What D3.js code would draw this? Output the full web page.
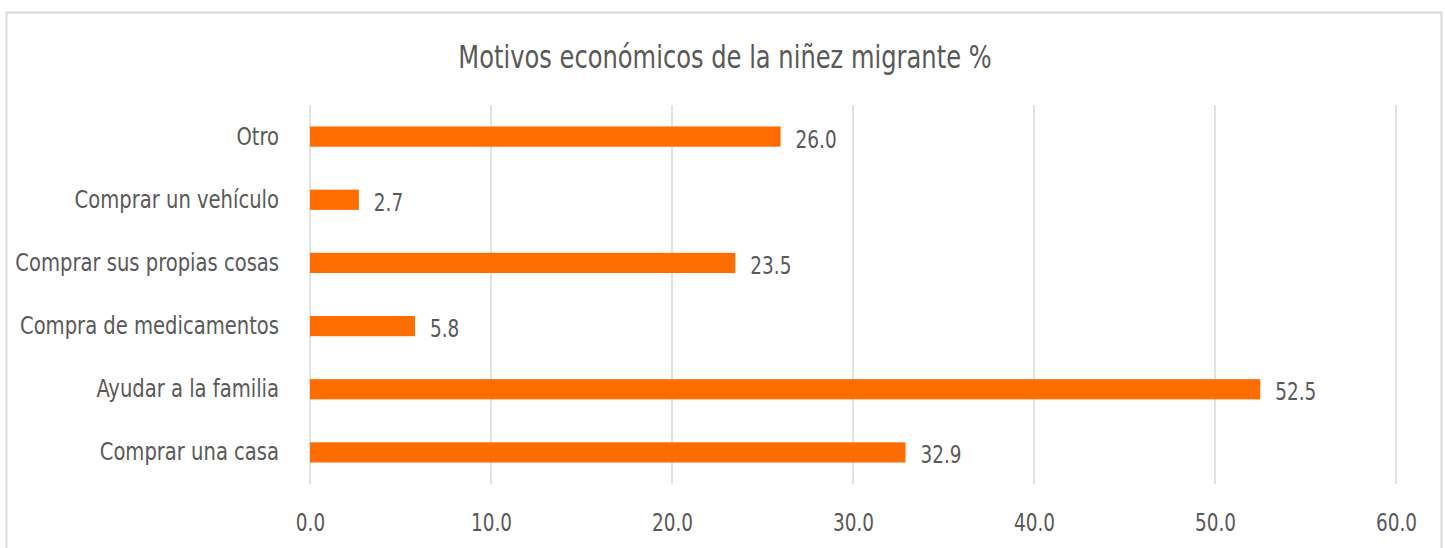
<!DOCTYPE html>
<html>
<head>
<meta charset="utf-8">
<script src="https://cdn.jsdelivr.net/npm/d3@7"></script>
<style>
    html, body { margin: 0; padding: 0; background: #fff; }
    svg text { font-family: "DejaVu Sans Condensed", "DejaVu Sans", sans-serif; fill: #595959; }
</style>
</head>
<body>
<div id="chart"></div>
<script>
// data, top category first
const categories = ['Otro', 'Comprar un vehículo', 'Comprar sus propias cosas',
                    'Compra de medicamentos', 'Ayudar a la familia', 'Comprar una casa'];
const values = [26.0, 2.7, 23.5, 5.8, 52.5, 32.9];
const xTicks = [0, 10, 20, 30, 40, 50, 60];
const TITLE = 'Motivos económicos de la niñez migrante %';

(function(){
    var WIDTH = 1445, HEIGHT = 548,
        PLOT_LEFT = 310, PLOT_RIGHT = 1396,
        PLOT_TOP = 105, PLOT_BOTTOM = 484,
        BAR_COLOR = '#ff6d00',
        GRID_COLOR = '#d9d9d9',
        SQUEEZE = 0.87;   // no condensed font here, so squeeze text horizontally

    var svg = d3.select('#chart').append('svg')
        .attr('width', WIDTH)
        .attr('height', HEIGHT);

    // place a text at (px,py) and squeeze it
    function squeeze(sel, px, py, k){
        sel.attr('x', 0).attr('y', 0)
            .attr('transform', (d, i) => 'translate(' + px(d, i) + ',' + py(d, i) + ') scale(' + k + ',1)');
    }

    // chart frame
    svg.append('rect')
        .attr('x', 6.5).attr('y', 12.5)
        .attr('width', 1435).attr('height', 560)
        .attr('fill', 'none')
        .attr('stroke', '#d9d9d9')
        .attr('stroke-width', 2);

    svg.append('text')
        .attr('text-anchor', 'middle')
        .style('font-size', '32px')
        .text(TITLE)
        .call(squeeze, () => 725, () => 68, 0.84);

    var x = d3.scaleLinear().domain([0, 60]).range([PLOT_LEFT, PLOT_RIGHT]);
    var y = d3.scaleBand().domain(categories).range([PLOT_TOP, PLOT_BOTTOM]).paddingInner(0.68).paddingOuter(0.34);

    // gridlines
    svg.append('g').selectAll('line')
        .data(xTicks)
        .enter().append('line')
        .attr('x1', d => x(d)).attr('x2', d => x(d))
        .attr('y1', PLOT_TOP).attr('y2', PLOT_BOTTOM)
        .attr('stroke', GRID_COLOR)
        .attr('stroke-width', 1.5);

    // x axis labels
    var xAxis = d3.axisBottom(x).tickValues(xTicks).tickFormat(d3.format('.1f')).tickSize(0);
    var gx = svg.append('g')
        .attr('transform', 'translate(0,' + PLOT_BOTTOM + ')')
        .call(xAxis);
    gx.select('.domain').remove();
    gx.selectAll('text')
        .attr('dy', null)
        .style('font-size', '25px').attr('fill', '#595959')
        .call(squeeze, () => 0, () => 47, 0.82);

    // y axis labels
    var yAxis = d3.axisLeft(y).tickSize(0);
    var gy = svg.append('g')
        .attr('transform', 'translate(' + PLOT_LEFT + ',0)')
        .call(yAxis);
    gy.select('.domain').remove();
    gy.selectAll('text')
        .style('font-size', '25px').attr('fill', '#595959')
        .call(squeeze, () => -31, () => 0, SQUEEZE);

    // bars
    svg.append('g').selectAll('rect')
        .data(values)
        .enter().append('rect')
        .attr('x', x(0))
        .attr('y', (d, i) => y(categories[i]))
        .attr('width', d => x(d) - x(0))
        .attr('height', y.bandwidth())
        .attr('fill', BAR_COLOR);

    // value labels
    svg.append('g').selectAll('text')
        .data(values)
        .enter().append('text')
        .attr('dy', '0.36em')
        .style('font-size', '25px')
        .text(d => d.toFixed(1))
        .call(squeeze, d => x(d) + 15, (d, i) => y(categories[i]) + y.bandwidth() / 2 + 2, 0.82);
})();
</script>
</body>
</html>
